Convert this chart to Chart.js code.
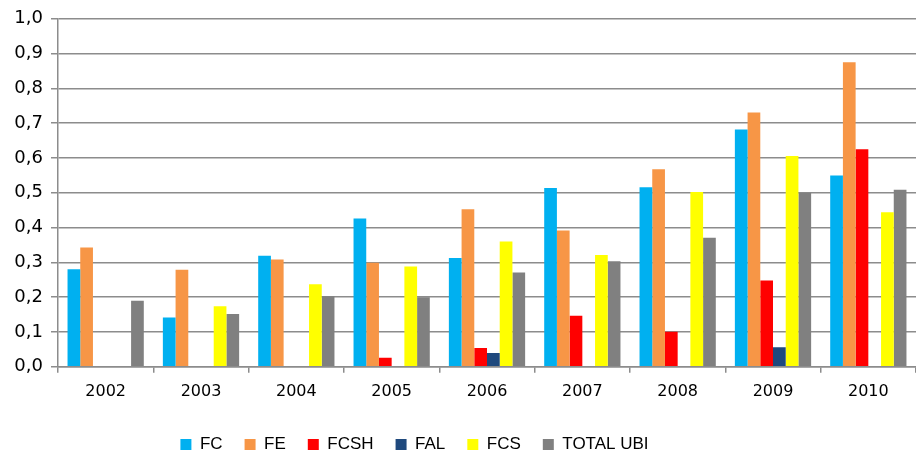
<!DOCTYPE html>
<html>
  <head>
    <meta charset="UTF-8" />
    <title>UBI</title>
    <script src="https://cdn.jsdelivr.net/npm/chart.js"></script>
    <style>
      body {
        margin: 0;
        background: #fff;
      }
      #wrap {
        width: 916px;
        height: 453px;
      }
    </style>
  </head>
  <body>
    <div id="wrap"><canvas id="ubiChart"></canvas></div>
  </body>
  <script>
    const years = ["2002", "2003", "2004", "2005", "2006", "2007", "2008", "2009", "2010"];
    const fc = [0.28, 0.142, 0.319, 0.426, 0.313, 0.514, 0.516, 0.682, 0.55];
    const fe = [0.343, 0.279, 0.308, 0.299, 0.453, 0.392, 0.568, 0.731, 0.875];
    const fcsh = [0, 0, 0, 0.026, 0.054, 0.147, 0.101, 0.248, 0.625];
    const fal = [0, 0, 0, 0, 0.04, 0, 0, 0.056, 0];
    const fcs = [0, 0.174, 0.237, 0.288, 0.36, 0.321, 0.502, 0.606, 0.444];
    const totalUbi = [0.19, 0.152, 0.203, 0.2, 0.271, 0.303, 0.371, 0.5, 0.509];

    const font = "'DejaVu Sans', sans-serif";
    const legendFont = "'Liberation Sans', Arial, sans-serif";
    const gridGray = "#8c8c8c";

    // legend sits a bit left of centre and lower than chart.js puts it
    const legendPlacement = {
      id: "legendPlacement",
      afterLayout(chart) {
        const lg = chart.legend;
        lg.right = 829;
        lg.top += 10;
        lg.bottom += 10;
      },
    };

    const ctx = document.getElementById("ubiChart").getContext("2d");
    new Chart(ctx, {
      type: "bar",
      data: {
        labels: years,
        datasets: [
          { label: "FC", data: fc, backgroundColor: "#00b0f0" },
          { label: "FE", data: fe, backgroundColor: "#f79646" },
          { label: "FCSH", data: fcsh, backgroundColor: "#ff0000" },
          { label: "FAL", data: fal, backgroundColor: "#1f497d" },
          { label: "FCS", data: fcs, backgroundColor: "#ffff00" },
          { label: "TOTAL UBI", data: totalUbi, backgroundColor: "#808080" },
        ],
      },
      options: {
        responsive: true,
        maintainAspectRatio: false,
        animation: false,
        datasets: {
          bar: { categoryPercentage: 0.8, barPercentage: 1.0 },
        },
        layout: { padding: { top: 15, right: 0, bottom: 0, left: 0 } },
        plugins: {
          tooltip: { enabled: false },
          legend: {
            position: "bottom",
            labels: {
              boxWidth: 11,
              boxHeight: 11,
              padding: 22,
              color: "#000",
              font: { family: legendFont, size: 17 },
            },
          },
        },
        scales: {
          x: {
            afterFit: (scale) => {
              scale.height -= 6;
            },
            grid: {
              drawOnChartArea: false,
              color: gridGray,
              lineWidth: 1.5,
              tickLength: 6,
            },
            border: { color: gridGray, width: 1.5 },
            ticks: {
              color: "#000",
              font: { family: font, size: 16 },
              padding: 9,
            },
          },
          y: {
            min: 0,
            max: 1,
            afterFit: (scale) => {
              scale.width = 58;
            },
            grid: { color: gridGray, lineWidth: 1.5, tickLength: 7 },
            border: { color: gridGray, width: 1.5 },
            ticks: {
              stepSize: 0.1,
              color: "#000",
              padding: 8,
              font: { family: font, size: 18 },
              callback: (v) => v.toFixed(1).replace(".", ","),
            },
          },
        },
      },
      plugins: [legendPlacement],
    });
  </script>
</html>
